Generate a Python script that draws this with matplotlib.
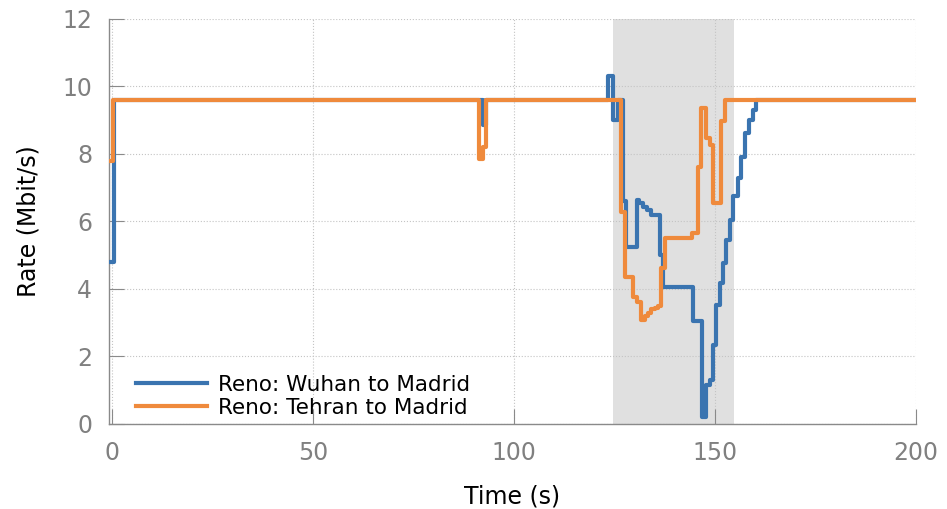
import matplotlib.pyplot as plt

# Rate traces over time (step changes), seconds -> Mbit/s
wuhan_t = [-0.5, 0.4, 92.2, 93.0, 123.4, 124.6, 125.9, 127.1, 127.8, 130.5,
           131.0, 132.0, 133.0, 134.2, 136.4, 137.2, 144.5, 146.8, 147.9,
           148.7, 149.5, 150.4, 151.2, 152.0, 152.8, 153.7, 154.5, 155.7,
           156.6, 157.4, 158.6, 159.5, 160.3, 200.0]
wuhan_rate = [4.8, 9.6, 8.85, 9.6, 10.3, 9.0, 9.6, 6.6, 5.25, 6.64,
              6.54, 6.44, 6.34, 6.2, 5.0, 4.07, 3.05, 0.22, 1.16,
              1.3, 2.34, 3.53, 4.17, 4.76, 5.45, 6.04, 6.74, 7.28,
              7.92, 8.61, 9.01, 9.3, 9.6, 9.6]

tehran_t = [-0.8, 0.1, 91.3, 92.2, 93.1, 126.7, 127.5, 129.6, 130.5, 131.7,
            132.5, 133.3, 134.2, 135.0, 135.8, 136.7, 137.5, 144.3, 145.8,
            146.6, 147.9, 148.7, 149.5, 151.6, 152.4, 200.0]
tehran_rate = [7.8, 9.6, 7.85, 8.2, 9.6, 6.29, 4.36, 3.75, 3.6, 3.08,
               3.2, 3.3, 3.4, 3.45, 3.5, 4.61, 5.5, 5.65, 7.62,
               9.35, 8.46, 8.27, 6.55, 8.96, 9.6, 9.6]

event_start, event_end = 124.7, 154.7

fig = plt.figure(figsize=(9.47, 5.09), dpi=100)
ax = fig.add_axes([0.115, 0.167, 0.852, 0.796])

ax.axvspan(event_start, event_end, color='#e0e0e0', lw=0, zorder=0)
ax.plot(wuhan_t, wuhan_rate, drawstyle='steps-post', color='#3a74b0', lw=3.0,
        label='Reno: Wuhan to Madrid', zorder=3)
ax.plot(tehran_t, tehran_rate, drawstyle='steps-post', color='#ef8a3c', lw=3.0,
        label='Reno: Tehran to Madrid', zorder=4)

ax.set_xlim(-0.85, 200)
ax.set_ylim(0, 12)
ax.set_xticks([0, 50, 100, 150, 200])
ax.set_yticks([0, 2, 4, 6, 8, 10, 12])
ax.grid(True, linestyle=':', color='#c4c4c4', lw=0.8, zorder=1)
ax.set_axisbelow(True)

for s in ['top', 'right']:
    ax.spines[s].set_visible(False)
for s in ['left', 'bottom']:
    ax.spines[s].set_color('#8a8a8a')
    ax.spines[s].set_linewidth(1.0)

ax.tick_params(direction='in', length=11, color='#8a8a8a', labelcolor='#808080',
               labelsize=17, pad=12)
ax.set_xlabel('Time (s)', fontsize=17, labelpad=14)
ax.set_ylabel('Rate (Mbit/s)', fontsize=17, labelpad=16)

ax.legend(loc='lower left', bbox_to_anchor=(0.034, 0.015), frameon=False,
          fontsize=15.5, handlelength=3.3, handletextpad=0.5, labelspacing=0.15,
          borderpad=0, borderaxespad=0)

fig.savefig('out.png', dpi=100)
